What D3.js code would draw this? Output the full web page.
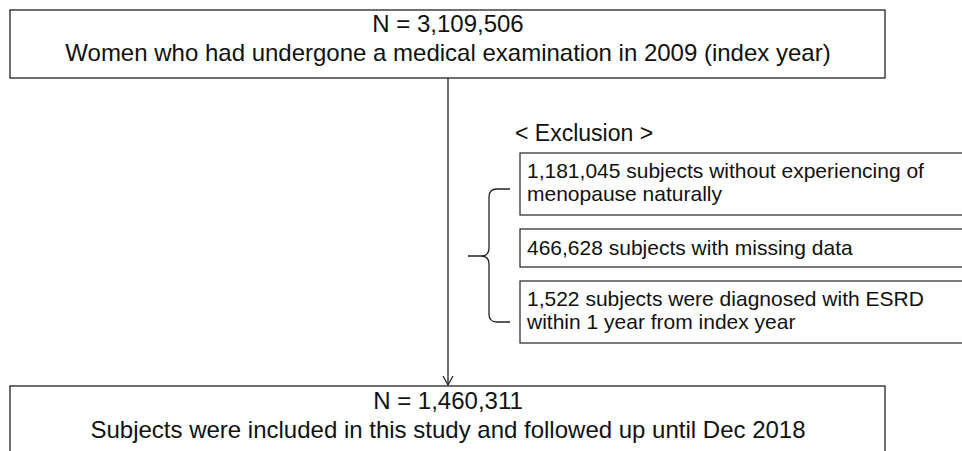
<!DOCTYPE html>
<html>
<head>
<meta charset="utf-8">
<script src="https://cdn.jsdelivr.net/npm/d3@7"></script>
<style>
  body { margin: 0; background: #fff; }
  svg { display: block; font-family: "Liberation Sans", Arial, sans-serif; }
</style>
</head>
<body>
<div class="vis-flow"></div>
<script>
const topLines = ['N = 3,109,506', 'Women who had undergone a medical examination in 2009 (index year)'];
const exclusionTitle = '< Exclusion >';
const exclusionItems = [
    ['1,181,045 subjects without experiencing of', 'menopause naturally'],
    ['466,628 subjects with missing data'],
    ['1,522 subjects were diagnosed with ESRD', 'within 1 year from index year']
];
const bottomLines = ['N = 1,460,311', 'Subjects were included in this study and followed up until Dec 2018'];

const width = 962;
const height = 451;
const stroke = '#222';

const svg = d3.select('.vis-flow').append('svg')
    .attr('width', width).attr('height', height);

// main boxes
const mainBox = { x: 10, w: 875 };
const centerX = 448;

const drawMain = (y, h, lines, base, gap) => {
    const g = svg.append('g');
    g.append('rect')
        .attr('x', mainBox.x).attr('y', y)
        .attr('width', mainBox.w).attr('height', h)
        .attr('fill', 'none').attr('stroke', stroke).attr('stroke-width', 1.3);
    g.selectAll('text').data(lines).enter().append('text')
        .attr('x', centerX)
        .attr('y', (d, i) => y + base + i * gap)
        .attr('text-anchor', 'middle')
        .attr('font-size', 24)
        .attr('fill', '#111')
        .text(d => d);
};

drawMain(10, 68, topLines, 22, 29);
drawMain(386, 100, bottomLines, 23, 29);

// arrow
svg.append('line')
    .attr('x1', centerX).attr('y1', 78)
    .attr('x2', centerX).attr('y2', 385)
    .attr('stroke', stroke).attr('stroke-width', 1.3);
svg.append('path')
    .attr('d', `M${centerX - 5},${376} L${centerX},${385} L${centerX + 5},${376}`)
    .attr('fill', 'none').attr('stroke', stroke).attr('stroke-width', 1.3);

// exclusion title
svg.append('text')
    .attr('x', 515).attr('y', 141)
    .attr('font-size', 23)
    .attr('fill', '#111')
    .text(exclusionTitle);

// exclusion boxes, stacked
const boxX = 520;
const lineGap = 23;
const boxGap = 14;
let cy = 153;
const boxes = exclusionItems.map(lines => {
    const h = lines.length === 1 ? 38 : 62;
    const b = { lines, y: cy, h };
    cy += h + boxGap;
    return b;
});

const exG = svg.selectAll('.ex').data(boxes).enter().append('g').attr('class', 'ex');
exG.append('rect')
    .attr('x', boxX).attr('y', d => d.y)
    .attr('width', width - boxX + 20).attr('height', d => d.h)
    .attr('fill', 'none').attr('stroke', stroke).attr('stroke-width', 1.2);
exG.each(function (d) {
    d3.select(this).selectAll('text').data(d.lines).enter().append('text')
        .attr('x', boxX + 7)
        .attr('y', (t, i) => d.y + (d.lines.length === 1 ? 26 : 25) + i * lineGap)
        .attr('font-size', 21)
        .attr('fill', '#111')
        .text(t => t);
});

// curly brace
const bx = 489, braceTop = 189, braceBot = 322, braceMid = 256, r = 8;
svg.append('path')
    .attr('d', [
        `M510,${braceTop}`,
        `L${bx + r},${braceTop}`,
        `Q${bx},${braceTop} ${bx},${braceTop + r}`,
        `L${bx},${braceMid - r}`,
        `Q${bx},${braceMid} ${bx - r},${braceMid}`,
        `L468,${braceMid}`,
        `M${bx - r},${braceMid}`,
        `Q${bx},${braceMid} ${bx},${braceMid + r}`,
        `L${bx},${braceBot - r}`,
        `Q${bx},${braceBot} ${bx + r},${braceBot}`,
        `L510,${braceBot}`
    ].join(' '))
    .attr('fill', 'none').attr('stroke', stroke).attr('stroke-width', 1.3);
</script>
</body>
</html>
